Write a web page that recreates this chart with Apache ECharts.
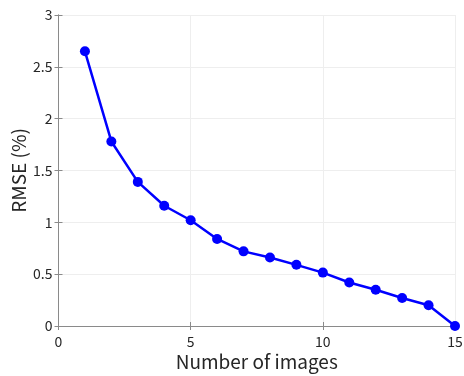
<!DOCTYPE html>
<html>
<head>
<meta charset="utf-8">
<script src="https://cdn.jsdelivr.net/npm/echarts@6/dist/echarts.min.js"></script>
<style>
	html, body { margin: 0; padding: 0; background: #fff; }
	#chart { width: 464px; height: 376px; }
</style>
</head>
<body>
<div id="chart"></div>
<script type="text/javascript">
	// 数据
	var numImages = [1, 2, 3, 4, 5, 6, 7, 8, 9, 10, 11, 12, 13, 14, 15];
	var rmse = [2.65, 1.78, 1.39, 1.16, 1.02, 0.84, 0.72, 0.66, 0.59, 0.515, 0.42, 0.35, 0.27, 0.20, 0.0];

	var font = '"Noto Sans CJK JP", "Noto Sans", sans-serif';
	var axisColor = '#8a8a8a';
	var points = numImages.map(function (v, i) { return [v, rmse[i]]; });

	var myChart = echarts.init(document.getElementById('chart'));
	var option = {
		animation: false,
		grid: {
			left: 58.5,
			right: 9,
			top: 15,
			bottom: 50,
			outerBoundsMode: 'none'
		},
		xAxis: [{
			type: 'value',
			min: 0,
			max: 15,
			interval: 5,
			name: 'Number of images',
			nameLocation: 'middle',
			nameGap: 26,
			nameMoveOverlap: false,
			nameTextStyle: { fontFamily: font, fontSize: 19, color: '#262626' },
			axisLine: { lineStyle: { color: axisColor, width: 1 } },
			axisTick: { inside: true, length: 4, lineStyle: { color: axisColor } },
			axisLabel: { fontFamily: font, fontSize: 14, color: '#262626', margin: 9 },
			splitLine: { show: true, lineStyle: { color: '#eeeeee' } }
		}, {
			type: 'value',
			position: 'top',
			min: 0,
			max: 15,
			interval: 5,
			axisLine: { show: true, lineStyle: { color: axisColor } },
			axisTick: { inside: true, length: 4, lineStyle: { color: axisColor } },
			axisLabel: { show: false },
			splitLine: { show: false }
		}],
		yAxis: [{
			type: 'value',
			min: 0,
			max: 3,
			interval: 0.5,
			name: 'RMSE (%)',
			nameLocation: 'middle',
			nameGap: 30,
			nameMoveOverlap: false,
			nameTextStyle: { fontFamily: font, fontSize: 19, color: '#262626' },
			axisLine: { show: true, lineStyle: { color: axisColor, width: 1 } },
			axisTick: { show: true, inside: true, length: 4, lineStyle: { color: axisColor } },
			axisLabel: { fontFamily: font, fontSize: 14, color: '#262626', margin: 6 },
			splitLine: { show: true, lineStyle: { color: '#eeeeee' } }
		}, {
			type: 'value',
			position: 'right',
			min: 0,
			max: 3,
			interval: 0.5,
			axisLine: { show: true, lineStyle: { color: axisColor } },
			axisTick: { show: true, inside: true, length: 4, lineStyle: { color: axisColor } },
			axisLabel: { show: false },
			splitLine: { show: false }
		}],
		series: [{
			type: 'line',
			data: points,
			xAxisIndex: 0,
			yAxisIndex: 0,
			symbol: 'circle',
			symbolSize: 10,
			clip: false,
			lineStyle: { color: '#0000ff', width: 2.5 },
			itemStyle: { color: '#0000ff' }
		}]
	};
	myChart.setOption(option);
</script>
</body>
</html>
